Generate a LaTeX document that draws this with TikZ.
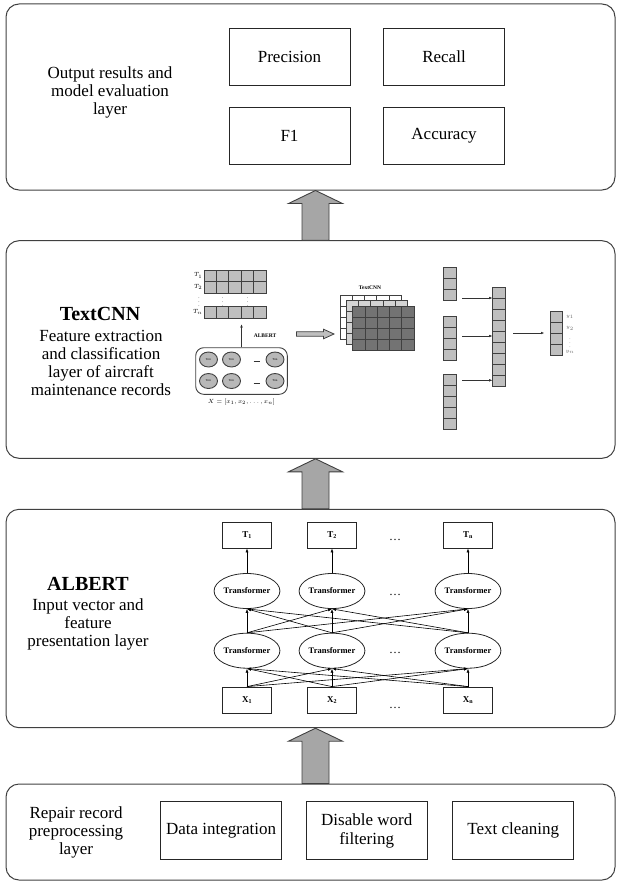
\documentclass[tikz,border=0pt]{standalone}
\usepackage{fontspec}
\setmainfont{Liberation Serif}
\usetikzlibrary{arrows.meta,shapes.geometric,calc}

% A block of cells: name, left, top, columns, rows, cell width, cell height, fill
\newcommand\cellgrid[8]{%
  \node[cellgroup, fill=#8, minimum width=#4*#6, minimum height=#5*#7, anchor=north west] (#1) at (#2,#3) {};
  \pgfmathtruncatemacro\cgcols{#4-1}%
  \pgfmathtruncatemacro\cgrows{#5-1}%
  \ifnum\cgcols>0 \foreach \k in {1,...,\cgcols} \draw[cellline] ($(#1.north west)+(\k*#6,0)$) -- ++(0,#5*#7);\fi
  \ifnum\cgrows>0 \foreach \k in {1,...,\cgrows} \draw[cellline] ($(#1.north west)+(0,\k*#7)$) -- ++(#4*#6,0);\fi
}

\begin{document}
\begin{tikzpicture}[x=1pt,y=-1pt,
  layerbox/.style={draw=black!75, line width=1pt, rounded corners=13pt, inner sep=0pt, minimum width=609},
  itembox/.style={draw=black!85, line width=0.9pt, minimum width=121, minimum height=57, inner sep=2pt, align=center, font=\fontsize{17}{19}\selectfont},
  laytext/.style={align=center, font=\fontsize{17}{18}\selectfont},
  laytitle/.style={font=\fontsize{20}{22}\selectfont\bfseries},
  blockarrow/.style={draw=black!75, line width=0.9pt, fill=black!35, line join=miter},
  tbox/.style={draw=black!85, line width=0.8pt, minimum width=49, minimum height=26, inner sep=0pt, font=\fontsize{9}{9}\selectfont\bfseries},
  trf/.style={ellipse, draw=black!85, line width=0.8pt, minimum width=64, minimum height=35, inner sep=0pt, font=\fontsize{8.5}{9}\selectfont\bfseries},
  link/.style={draw=black, line width=0.6pt, -{Latex[length=4pt,width=3pt]}},
  hdots/.style={font=\fontsize{12}{12}\selectfont},
  cellgroup/.style={draw=black!75, line width=1pt, inner sep=0pt, outer sep=0pt},
  cellline/.style={draw=black!75, line width=1pt},
  trm/.style={ellipse, draw=black!75, line width=0.9pt, fill=black!28, minimum width=18, minimum height=15, inner sep=0pt, font=\fontsize{3}{3}\selectfont},
  tiny/.style={font=\fontsize{6}{6}\selectfont, inner sep=0pt},
  thinarrow/.style={draw=black!80, line width=0.8pt, -{Latex[length=3.5pt,width=2.6pt]}}
]
\useasboundingbox (0,0) rectangle (616,883);

% ---------- layer frames ----------
\node[layerbox, minimum height=186]   (L1) at (310.5,97)    {};
\node[layerbox, minimum height=217.6] (L2) at (310.5,349.5) {};
\node[layerbox, minimum height=218.4] (L3) at (310.5,618.5) {};
\node[layerbox, minimum height=96]    (L4) at (310.5,832)   {};

% ---------- wide arrows between layers ----------
\foreach \a/\b in {L1/L2, L2/L3, L3/L4} {
  \coordinate (tip) at ([xshift=5]\a.south);
  \coordinate (base) at ([xshift=5]\b.north);
  \draw[blockarrow] (tip) -- ++(-27,13) -- ++(13.5,0) -- ([xshift=-13.5]base)
     -- ([xshift=13.5]base) -- ($(tip)+(13.5,13)$) -- ++(13.5,0) -- cycle;
}

% ---------- output results and model evaluation layer ----------
\node[laytext] (out1) at (110,92) {Output results and\\model evaluation\\layer};
\node[itembox] (prec) at (289.5,57)    {Precision};
\node[itembox] (rec)  at (444,57)      {Recall};
\node[itembox] (f1)   at (289.5,135.5) {F1};
\node[itembox] (acc)  at (444,135.5)   {Accuracy};

% ---------- TextCNN layer ----------
\node[laytitle] (cnnt) at (100,314) {TextCNN};
\node[laytext]  (cnnd) at (101,363) {Feature extraction\\and classification\\layer of aircraft\\maintenance records};

% token vectors
\cellgrid{ta}{204}{270}{5}{1}{12.4}{11.5}{black!25}
\cellgrid{tb}{204}{281.5}{5}{1}{12.4}{11.5}{black!25}
\cellgrid{tn}{204}{306.5}{5}{1}{12.4}{11.5}{black!25}
\node[tiny, anchor=east] (la) at (202.5,275.5) {$T_1$};
\node[tiny, anchor=east] (lb) at (202.5,287)   {$T_2$};
\node[tiny, anchor=east] (ln) at (202.5,312)   {$T_n$};
\foreach \x [count=\i] in {199,222.6,247.4}
  \node[font=\fontsize{5}{5}\selectfont, inner sep=0pt] (vd\i) at (\x,299) {$\vdots$};

% ALBERT encoder block
\node[draw=black!75, line width=0.9pt, rounded corners=8pt, minimum width=91.6, minimum height=46.6, inner sep=0pt] (alb) at (241.5,371) {};
\foreach \r/\y in {1/359.5, 2/381}
  \foreach \c/\x in {1/208.5, 2/231.5, 3/275}
    \node[trm] (m\r\c) at (\x,\y) {Trm};
\foreach \r/\y in {1/361, 2/383}
  \draw[black!80, line width=0.8pt] (253.5,\y) coordinate (ds\r) -- ++(6,0);
\node[font=\fontsize{5.5}{5.5}\selectfont\bfseries, inner sep=0pt] (albl) at (265,336) {ALBERT};
\node[font=\fontsize{6.5}{6.5}\selectfont, inner sep=0pt] (xseq) at (241.5,402) {$X=[x_1,x_2,\ldots,x_n]$};
\draw[thinarrow, shorten >=6pt] (alb.north) -- (alb.north |- tn.south);

% hollow arrow into the convolution block
\coordinate (ha) at (296.5,334);
\coordinate (hb) at (334,334);
\draw[draw=black!75, line width=0.8pt, fill=black!25, line join=miter]
  (ha) -- ++(0,-2.2) -- ($(hb)+(-10.5,-2.2)$) -- ++(0,-2.6) -- (hb)
  -- ($(hb)+(-10.5,4.8)$) -- ++(0,-2.6) -- ($(ha)+(0,2.2)$) -- cycle;

% convolution feature maps
\node[font=\fontsize{5.5}{5.5}\selectfont\bfseries, inner sep=0pt] (cnnl) at (370,287.5) {TextCNN};
\cellgrid{fm1}{340}{295}{5}{4}{12.3}{11}{white}
\cellgrid{fm2}{346.3}{300.5}{5}{4}{12.3}{11}{black!17}
\cellgrid{fm3}{352.7}{306}{5}{4}{12.3}{11}{black!55}

% pooled feature columns
\cellgrid{c1}{443}{267}{1}{3}{13}{11}{black!25}
\cellgrid{c2}{443.5}{316.5}{1}{4}{13}{11}{black!25}
\cellgrid{c3}{443.5}{374}{1}{5}{13}{11}{black!25}
\cellgrid{cc}{492.7}{287.3}{1}{9}{12.5}{11}{black!25}
\cellgrid{yo}{550}{311.5}{1}{4}{12.5}{11}{black!25}
\coordinate (r1) at (462,298);
\coordinate (r2) at (462,336);
\coordinate (r3) at (462,380.3);
\foreach \r in {r1,r2,r3}
  \draw[thinarrow] (\r) -- (\r -| cc.west);
\coordinate (r4) at (513.3,333);
\draw[thinarrow, shorten >=5.5pt] (r4) -- (r4 -| yo.west);
\foreach \t/\y [count=\i] in {$y_1$/317, $y_2$/328.5, $\vdots$/340, $y_n$/351.5}
  \node[font=\fontsize{5}{5}\selectfont, text=black!60, inner sep=0pt] (yl\i) at (570,\y) {\t};

% ---------- ALBERT layer ----------
\node[laytitle] (albt) at (88,584) {ALBERT};
\node[laytext]  (albd) at (88,624) {Input vector and\\feature\\presentation layer};

\foreach \i/\x in {1/247, 2/332, n/468} {
  \node[tbox] (T\i)  at (\x,535) {T\textsubscript{\i}};
  \node[trf]  (Ea\i) at (\x,591) {Transformer};
  \node[trf]  (Eb\i) at (\x,650.7) {Transformer};
  \node[tbox] (X\i)  at (\x,700) {X\textsubscript{\i}};
}
\node[hdots] (dt) at (395,540) {\dots};
\node[hdots] (da) at (395,595) {\dots};
\node[hdots] (db) at (395,653) {\dots};
\node[hdots] (dx) at (395,708) {\dots};

\foreach \i in {1,2,n} {
  \draw[link] (Ea\i.north) -- (T\i.south);
  \foreach \j in {1,2,n} {
    \draw[link] (X\i.north) -- (Eb\j.south);
    \draw[link] (Eb\i.north) -- (Ea\j.south);
  }
}

% ---------- preprocessing layer ----------
\node[laytext] (pre) at (76,832.5) {Repair record\\preprocessing\\layer};
\node[itembox, minimum height=57.6] (di) at (221,830.5)   {Data integration};
\node[itembox, minimum height=57.6] (dw) at (366.7,830.5) {Disable word\\filtering};
\node[itembox, minimum height=57.6] (tc) at (513.3,830.5) {Text cleaning};

\end{tikzpicture}
\end{document}
